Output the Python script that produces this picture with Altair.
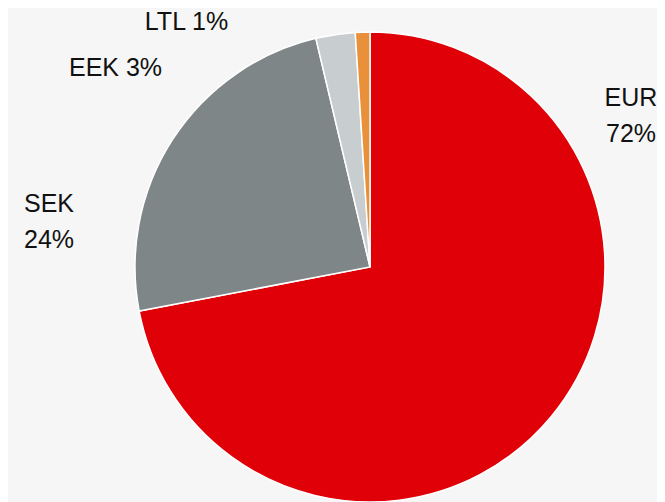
import altair as alt
import pandas as pd

currencies = ["EUR", "SEK", "EEK", "LTL"]
shares = [72.0, 24.3, 2.7, 1.0]
colors = ["#E00007", "#7F8687", "#C8CDCF", "#E8913A"]

label_texts = ["EUR\n72%", "SEK\n24%", "EEK 3%", "LTL 1%"]

# label anchor positions (annotation layout, pixels)
label_px = [623, 41, 107.5, 178.5]
label_py = [98, 204, 68, 22]
label_lh = [36, 35, 30, 30]

df = pd.DataFrame({"currency": currencies, "share": shares, "order": list(range(len(currencies)))})
lab = pd.DataFrame({"text": label_texts, "px": label_px, "py": label_py})

pie = alt.Chart(df).mark_arc(outerRadius=235, stroke="white", strokeWidth=1.5).encode(
    theta=alt.Theta("share:Q", stack=True),
    order=alt.Order("order:Q"),
    color=alt.Color("currency:N", scale=alt.Scale(domain=currencies, range=colors), legend=None),
    x=alt.value(362),
    y=alt.value(259),
)

labels = alt.Chart(lab).mark_text(
    font="Liberation Sans", fontSize=25, color="#111111", align="center",
    baseline="alphabetic", lineBreak="\n", lineHeight=36,
).encode(
    x=alt.X("px:Q", scale=None, axis=None),
    y=alt.Y("py:Q", scale=None, axis=None),
    text="text:N",
)

chart = alt.layer(pie, labels).properties(
    width=649, height=494,
    autosize=alt.AutoSizeParams(type="none"),
    padding=0,
    background="#f6f6f6",
).configure_view(stroke=None)

chart.save("out.html", embed_options={"renderer": "svg", "actions": False})
